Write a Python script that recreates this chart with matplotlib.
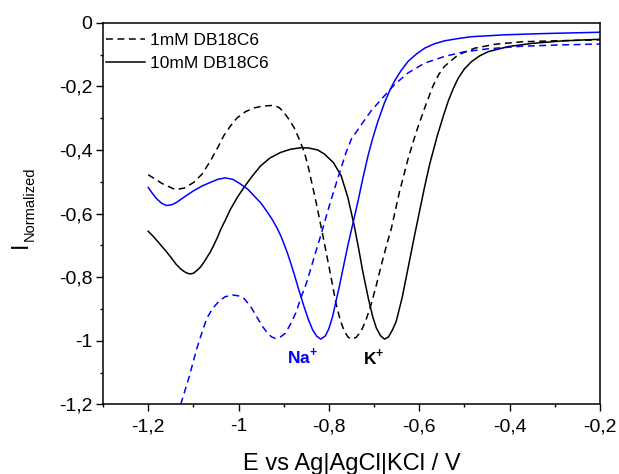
import matplotlib
matplotlib.use("Agg")
import matplotlib.pyplot as plt
from matplotlib.ticker import MultipleLocator, FuncFormatter

plt.rcParams['font.family'] = ['Liberation Sans', 'DejaVu Sans']
plt.rcParams['mathtext.fontset'] = 'custom'
plt.rcParams['mathtext.rm'] = 'Liberation Sans'
plt.rcParams['mathtext.bf'] = 'Liberation Sans:bold'

# Normalized voltammograms, potential in V vs Ag|AgCl|KCl
k_1mM_E = [-1.200, -1.170, -1.140, -1.120, -1.099, -1.080, -1.062, -1.045, -1.033, -1.018,
           -1.003, -0.985, -0.966, -0.945, -0.922, -0.910, -0.899, -0.888, -0.877, -0.866,
           -0.855, -0.847, -0.840, -0.829, -0.814, -0.799, -0.790, -0.784, -0.775, -0.766,
           -0.758, -0.751, -0.740, -0.729, -0.718, -0.707, -0.695, -0.684, -0.673, -0.662,
           -0.644, -0.625, -0.607, -0.588, -0.570, -0.557, -0.544, -0.514, -0.477, -0.433,
           -0.373, -0.300, -0.200]
k_1mM_I = [-0.478, -0.505, -0.525, -0.520, -0.502, -0.475, -0.434, -0.390, -0.356, -0.325,
           -0.299, -0.280, -0.268, -0.262, -0.260, -0.267, -0.283, -0.305, -0.330, -0.365,
           -0.405, -0.445, -0.490, -0.560, -0.665, -0.773, -0.840, -0.885, -0.935, -0.970,
           -0.988, -0.995, -0.990, -0.971, -0.935, -0.888, -0.825, -0.762, -0.703, -0.648,
           -0.533, -0.429, -0.345, -0.268, -0.200, -0.163, -0.137, -0.101, -0.080, -0.068,
           -0.060, -0.057, -0.054]

k_10mM_E = [-1.200, -1.190, -1.180, -1.170, -1.159, -1.148, -1.138, -1.129, -1.120, -1.113,
            -1.107, -1.100, -1.092, -1.084, -1.077, -1.070, -1.062, -1.055, -1.047, -1.040,
            -1.029, -1.018, -1.003, -0.988, -0.970, -0.951, -0.930, -0.907, -0.885, -0.862,
            -0.845, -0.825, -0.810, -0.790, -0.773, -0.758, -0.744, -0.734, -0.725, -0.713,
            -0.703, -0.695, -0.686, -0.677, -0.668, -0.659, -0.651, -0.638, -0.625, -0.612,
            -0.599, -0.588, -0.577, -0.560, -0.546, -0.536, -0.525, -0.514, -0.500, -0.484,
            -0.466, -0.447, -0.403, -0.350, -0.280, -0.200]
k_10mM_I = [-0.656, -0.670, -0.686, -0.703, -0.721, -0.741, -0.760, -0.773, -0.783, -0.788,
            -0.790, -0.788, -0.779, -0.768, -0.754, -0.738, -0.720, -0.700, -0.676, -0.652,
            -0.620, -0.587, -0.550, -0.518, -0.483, -0.450, -0.425, -0.408, -0.398, -0.393,
            -0.394, -0.400, -0.413, -0.440, -0.481, -0.550, -0.638, -0.712, -0.783, -0.865,
            -0.925, -0.960, -0.984, -0.995, -0.988, -0.965, -0.939, -0.865, -0.773, -0.680,
            -0.590, -0.515, -0.445, -0.355, -0.290, -0.247, -0.208, -0.175, -0.145, -0.122,
            -0.104, -0.091, -0.075, -0.065, -0.057, -0.052]

na_10mM_E = [-1.200, -1.190, -1.181, -1.170, -1.159, -1.147, -1.136, -1.118, -1.099, -1.080,
             -1.062, -1.045, -1.029, -1.012, -0.996, -0.980, -0.966, -0.950, -0.936, -0.925,
             -0.914, -0.906, -0.899, -0.891, -0.884, -0.877, -0.866, -0.855, -0.845, -0.836,
             -0.827, -0.818, -0.808, -0.800, -0.792, -0.785, -0.777, -0.768, -0.758, -0.747,
             -0.736, -0.725, -0.714, -0.704, -0.692, -0.677, -0.665, -0.655, -0.640, -0.625,
             -0.606, -0.588, -0.566, -0.544, -0.515, -0.484, -0.410, -0.320, -0.200]
na_10mM_I = [-0.518, -0.538, -0.554, -0.568, -0.575, -0.572, -0.564, -0.546, -0.528, -0.513,
             -0.502, -0.492, -0.488, -0.493, -0.507, -0.523, -0.544, -0.568, -0.596, -0.620,
             -0.648, -0.672, -0.697, -0.728, -0.758, -0.790, -0.843, -0.893, -0.935, -0.966,
             -0.986, -0.995, -0.985, -0.962, -0.925, -0.880, -0.830, -0.768, -0.700, -0.632,
             -0.564, -0.490, -0.422, -0.368, -0.312, -0.252, -0.212, -0.184, -0.150, -0.122,
             -0.098, -0.080, -0.066, -0.057, -0.050, -0.044, -0.038, -0.034, -0.030]

na_1mM_E = [-1.128, -1.110, -1.092, -1.080, -1.070, -1.057, -1.044, -1.030, -1.014, -1.000,
            -0.988, -0.973, -0.958, -0.947, -0.936, -0.927, -0.918, -0.907, -0.896, -0.884,
            -0.873, -0.862, -0.850, -0.840, -0.829, -0.818, -0.799, -0.781, -0.762, -0.750,
            -0.740, -0.727, -0.707, -0.681, -0.655, -0.625, -0.588, -0.544, -0.499, -0.447,
            -0.373, -0.290, -0.200]
na_1mM_I = [-1.200, -1.117, -1.023, -0.970, -0.929, -0.898, -0.877, -0.862, -0.856, -0.859,
            -0.867, -0.893, -0.929, -0.955, -0.976, -0.988, -0.993, -0.988, -0.976, -0.945,
            -0.912, -0.865, -0.820, -0.773, -0.720, -0.669, -0.575, -0.492, -0.408, -0.365,
            -0.345, -0.318, -0.278, -0.236, -0.195, -0.158, -0.127, -0.106, -0.091, -0.082,
            -0.074, -0.070, -0.067]

legend_labels = ["1mM DB18C6", "10mM DB18C6"]

BLUE = "#0000ff"
DASH = (0, (4.5, 3.0))
LW = 1.1

fig = plt.figure(figsize=(6.19, 4.74), dpi=100)
ax = fig.add_axes([103 / 619, 1 - 404.3 / 474, 497 / 619, 381.6 / 474])

ax.plot(k_1mM_E, k_1mM_I, color="black", lw=LW, linestyle=DASH, label=legend_labels[0])
ax.plot(k_10mM_E, k_10mM_I, color="black", lw=LW, label=legend_labels[1])
ax.plot(na_1mM_E, na_1mM_I, color=BLUE, lw=LW, linestyle=DASH)
ax.plot(na_10mM_E, na_10mM_I, color=BLUE, lw=LW)

ax.set_xlim(-1.3, -0.2)
ax.set_ylim(-1.2, 0)

ax.xaxis.set_major_locator(MultipleLocator(0.2))
ax.xaxis.set_minor_locator(MultipleLocator(0.1))
ax.yaxis.set_major_locator(MultipleLocator(0.2))
ax.yaxis.set_minor_locator(MultipleLocator(0.1))


def comma_fmt(v, pos):
    v = round(v, 3) + 0.0
    return ("%g" % v).replace(".", ",")


ax.xaxis.set_major_formatter(FuncFormatter(comma_fmt))
ax.yaxis.set_major_formatter(FuncFormatter(comma_fmt))

ax.tick_params(which="both", direction="out", top=False, right=False, width=1.0,
               labelsize=14)
ax.tick_params(which="major", length=5)
ax.tick_params(which="minor", length=2.5)
ax.tick_params(axis="x", pad=5)
ax.tick_params(axis="y", pad=2.5)
for s in ax.spines.values():
    s.set_linewidth(1.1)

ax.set_xlabel("E vs Ag|AgCl|KCl / V", fontsize=17)
ax.xaxis.label.set_va("baseline")
ax.xaxis.set_label_coords(0.5, -(470 - 404.3) / 381.6)

# y label: large "I" with a subscript
fig.text(26.7 / 619, 1 - 248 / 474, "I", fontsize=16.5, rotation=90,
         rotation_mode="anchor", ha="left", va="baseline")
fig.text(33.3 / 619, 1 - 241 / 474, "Normalized", fontsize=10.5, rotation=90,
         rotation_mode="anchor", ha="left", va="baseline")

ax.text(-0.892, -1.070, r"Na$^{\mathbf{+}}$", color=BLUE, fontsize=12.5, fontweight="bold",
        ha="left", va="baseline")
ax.text(-0.725, -1.073, r"K$^{\mathbf{+}}$", color="black", fontsize=12.5, fontweight="bold",
        ha="left", va="baseline")

ax.legend(loc="upper left", bbox_to_anchor=(0.0, 0.982), frameon=False, fontsize=12.5,
          handlelength=2.2, handletextpad=0.3, labelspacing=0.45, borderpad=0.2,
          borderaxespad=0.0)

fig.savefig("out.png", dpi=100)
